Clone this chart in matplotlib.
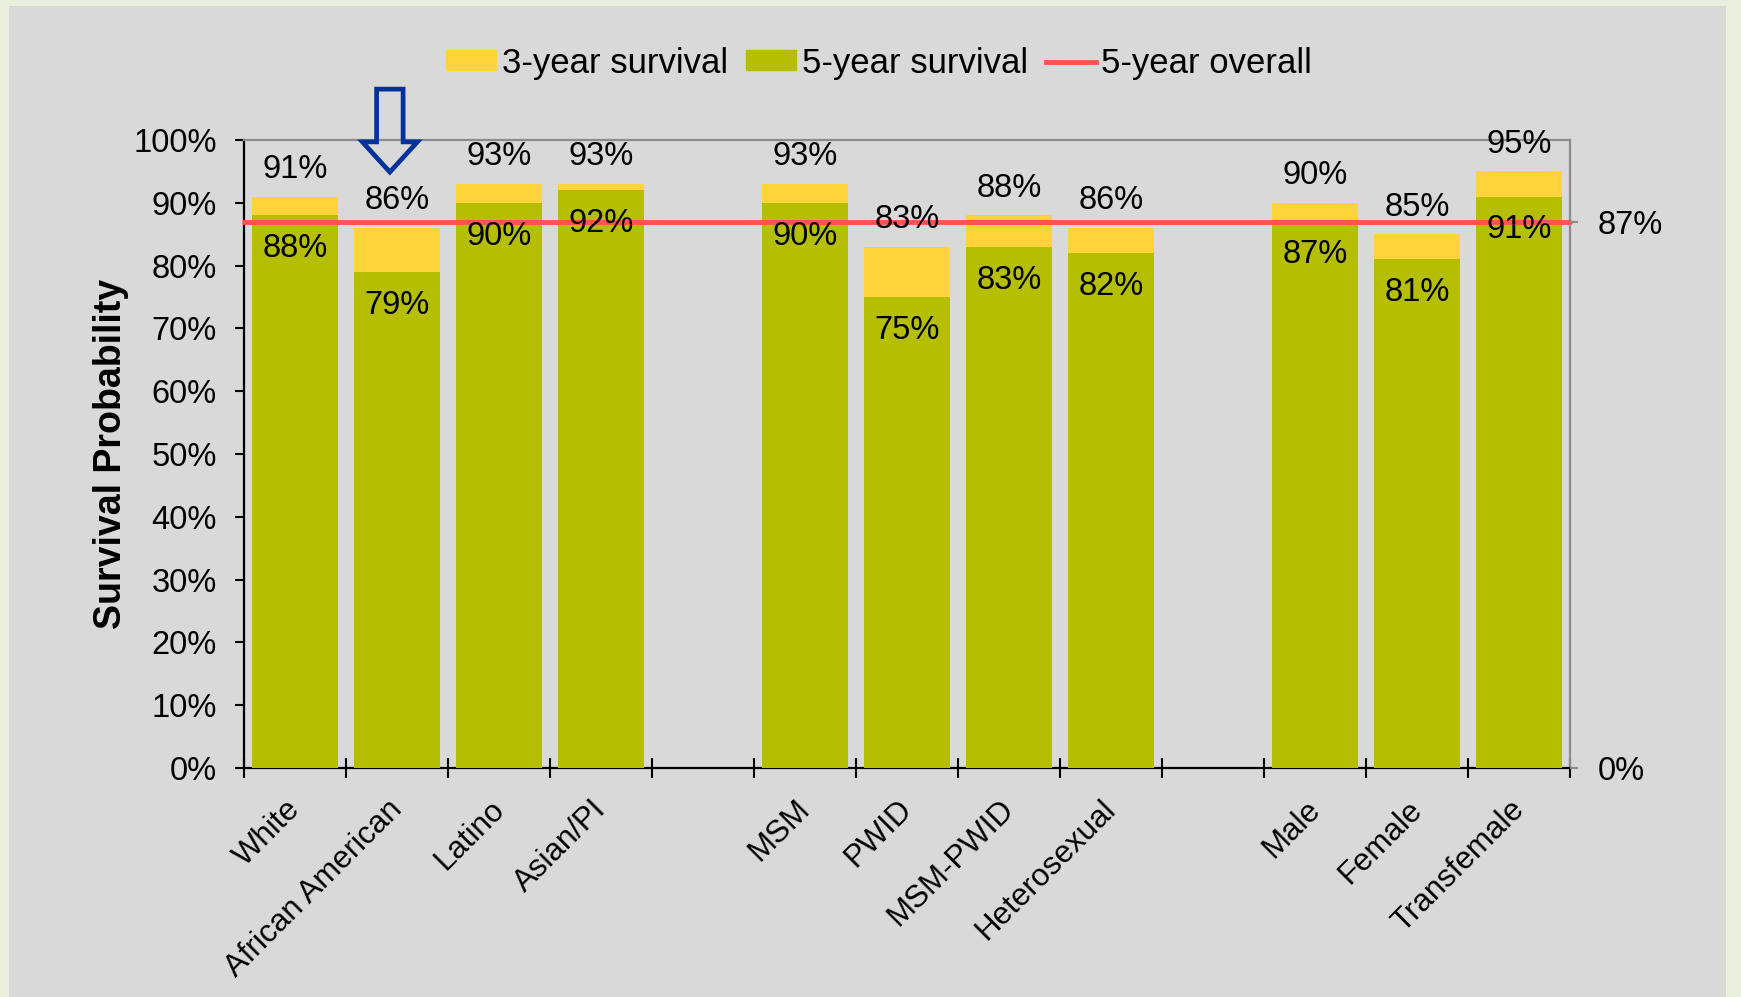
import matplotlib
matplotlib.use("Agg")
import matplotlib.pyplot as plt
from matplotlib.patches import Rectangle, Polygon
from matplotlib.lines import Line2D
from matplotlib.ticker import FixedLocator
from matplotlib.transforms import ScaledTranslation

plt.rcParams['font.family'] = ['Liberation Sans', 'DejaVu Sans']

# Category groups (race/ethnicity, transmission risk, gender)
groups = [
    ["White", "African American", "Latino", "Asian/PI"],
    ["MSM", "PWID", "MSM-PWID", "Heterosexual"],
    ["Male", "Female", "Transfemale"],
]
survival_3yr = [91, 86, 93, 93, 93, 83, 88, 86, 90, 85, 95]
survival_5yr = [88, 79, 90, 92, 90, 75, 83, 82, 87, 81, 91]
overall_5yr = 87
yticks = list(range(0, 101, 10))

YELLOW = "#FFD43B"
OLIVE = "#B5BF00"
RED = "#FF5252"
ARROW_BLUE = "#003399"

# slot positions, leaving one empty slot between groups
categories, positions = [], []
slot = 0
for g in groups:
    for name in g:
        categories.append(name)
        positions.append(slot)
        slot += 1
    slot += 1
n_slots = slot - 1

fig = plt.figure(figsize=(17.41, 9.97), dpi=100)
fig.patch.set_facecolor("#EBF0DE")
fig.patches.append(Rectangle((9 / 1741, 0), (1726 - 9) / 1741, 991 / 997,
                             transform=fig.transFigure, facecolor="#D9D9D9",
                             edgecolor="none", zorder=-10))

ax = fig.add_axes([244 / 1741, 1 - 768 / 997, (1570 - 244) / 1741, (768 - 140) / 997])
ax.set_facecolor("none")

bw = 0.84
ax.bar(positions, survival_3yr, width=bw, color=YELLOW, zorder=2)
ax.bar(positions, survival_5yr, width=bw, color=OLIVE, zorder=3)
ax.axhline(overall_5yr, color=RED, lw=3.5, solid_capstyle="round", zorder=4, clip_on=False)

fs = 23.5
for x, v3, v5 in zip(positions, survival_3yr, survival_5yr):
    ax.text(x, v3 + 4.3, f"{v3}%", ha="center", va="center", fontsize=fs, zorder=5)
    ax.text(x, v5 - 5.3, f"{v5}%", ha="center", va="center", fontsize=fs, zorder=5)

ax.set_xlim(-0.5, n_slots - 0.5)
ax.set_ylim(0, 100)
ax.set_yticks(yticks)
ax.set_yticklabels([f"{t}%" for t in yticks], fontsize=fs)
ax.tick_params(axis="y", direction="out", length=6.5, width=1.5, pad=13, color="black")

ax.set_xticks(positions)
ax.set_xticklabels(categories, rotation=45, ha="right", va="top",
                   rotation_mode="anchor", fontsize=22.5)
ax.tick_params(axis="x", which="major", length=0, pad=19)
shift = ScaledTranslation(-0.1, 0, fig.dpi_scale_trans)
for lbl in ax.get_xticklabels():
    lbl.set_transform(lbl.get_transform() + shift)
ax.xaxis.set_minor_locator(FixedLocator([i - 0.5 for i in range(n_slots + 1)]))
ax.tick_params(axis="x", which="minor", direction="inout", length=14, width=1.5, color="black")

for side in ("left", "bottom"):
    ax.spines[side].set_color("black")
    ax.spines[side].set_linewidth(1.6)
for side in ("top", "right"):
    ax.spines[side].set_color("#8C8C8C")
    ax.spines[side].set_linewidth(1.6)

ax.set_ylabel("Survival Probability", fontsize=27, fontweight="bold", labelpad=3)

ax2 = ax.twinx()
ax2.set_ylim(0, 100)
ax2.set_yticks([0, overall_5yr])
ax2.set_yticklabels(["0%", f"{overall_5yr}%"], fontsize=fs)
ax2.tick_params(axis="y", direction="out", length=6, width=1.5, pad=14, color="#8C8C8C")
for s in ax2.spines.values():
    s.set_visible(False)

# hollow arrow pointing at the African American bar
ax_i = positions[categories.index("African American")] - 0.07
sw, hw = 0.13, 0.27
arrow = Polygon([(ax_i - sw, 108.1), (ax_i + sw, 108.1), (ax_i + sw, 99.7),
                 (ax_i + hw, 99.7), (ax_i, 94.9), (ax_i - hw, 99.7), (ax_i - sw, 99.7)],
                closed=True, facecolor="none", edgecolor=ARROW_BLUE, lw=3.4,
                joinstyle="miter", clip_on=False, zorder=6)
ax.add_patch(arrow)

handles = [Rectangle((0, 0), 1, 1, color=YELLOW),
           Rectangle((0, 0), 1, 1, color=OLIVE),
           Line2D([], [], color=RED, lw=3.5)]
fig.legend(handles, ["3-year survival", "5-year survival", "5-year overall"],
           loc="center", bbox_to_anchor=(0.505, 0.9366), ncol=3, frameon=False,
           fontsize=25, handlelength=1.45, handleheight=0.51, handletextpad=0.16,
           columnspacing=0.51, borderpad=0)

fig.savefig("out.png", dpi=100, facecolor=fig.get_facecolor())
